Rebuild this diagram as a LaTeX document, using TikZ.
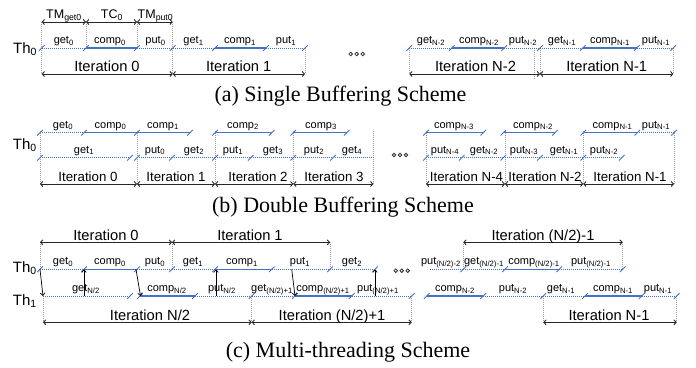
\documentclass[tikz,border=0pt]{standalone}
\usepackage{fontspec}
\setmainfont{Liberation Serif}
\setsansfont{Liberation Sans}
\usetikzlibrary{arrows.meta}
\definecolor{tlblue}{RGB}{68,114,196}
\newcounter{lbn}
\newcommand\sbs[1]{\textsubscript{#1}}
\tikzset{
 xfer/.style={tlblue, line width=0.8pt, dash pattern=on 0.8pt off 1.2pt},
 compline/.style={tlblue, line width=1.4pt},
 vguide/.style={gray!75, line width=0.6pt, dash pattern=on 0.7pt off 1.3pt},
 itspan/.style={black!85, line width=0.9pt, {Straight Barb[length=2.2pt,width=5pt]}-{Straight Barb[length=2.2pt,width=5pt]}},
 handoff/.style={black, line width=0.7pt, -{Straight Barb[length=2.5pt,width=4.5pt]}},
 lbl/.style={font=\sffamily\fontsize{11}{12}\selectfont, anchor=base, inner sep=0pt},
 toplbl/.style={font=\sffamily\fontsize{12.5}{14}\selectfont, anchor=base, inner sep=0pt},
 itla/.style={font=\sffamily\fontsize{14.7}{16}\selectfont, anchor=base, inner sep=0pt},
 itlb/.style={font=\sffamily\fontsize{13.3}{15}\selectfont, anchor=base, inner sep=0pt},
 thl/.style={font=\sffamily\fontsize{15}{16}\selectfont, anchor=base west, inner sep=0pt},
 captxt/.style={font=\fontsize{22}{24}\selectfont, anchor=base, inner sep=0pt},
 pics/slash/.style={code={\draw[tlblue, line width=0.9pt] (-2.8,2.8) -- (2.8,-2.8);}},
}
% segment: style, x0, x1, y, label x, label
\newcommand\tseg[6]{\draw[#1] (#2,#4) -- (#3,#4);\stepcounter{lbn}\node[lbl] (l\arabic{lbn}) at (#5,#4-4.5) {#6};}
% iteration span: x0, x1, y, label x, text, style
\newcommand\iter[6]{\draw[itspan] (#1,#3) -- (#2,#3);\stepcounter{lbn}\node[#6] (l\arabic{lbn}) at (#4,#3-2.3) {#5};}
\newcommand\ooo[2]{\foreach \dx in {-6,0,6} \draw[black!80, line width=0.8pt] (#1+\dx,#2) circle[radius=1.8];}
\begin{document}
\begin{tikzpicture}[x=1pt,y=-1pt]
\useasboundingbox (0,0) rectangle (696,367);

%% ---------------- (a) ----------------
\foreach \x/\a/\b in {41.7/22/74, 86/22/48, 137/22/48, 172.7/22/74, 305/48/74, 409.3/48/74, 534.3/48/80, 540.7/48/74, 673.3/48/74}
  \draw[vguide] (\x,\a) -- (\x,\b);
\draw[itspan] (41.7,22) -- (86,22);
\draw[itspan] (86,22) -- (137,22);
\draw[itspan] (137,22) -- (172.7,22);
\node[toplbl] (tmget) at (64,18.3) {TM\sbs{get0}};
\node[toplbl] (tc) at (112,18.3) {TC\sbs{0}};
\node[toplbl] (tmput) at (155.5,18.3) {TM\sbs{put0}};
\node[thl] (tha) at (13,53.3) {Th\sbs{0}};
\tseg{xfer}{41.7}{86}{48}{63.8}{get\sbs{0}}
\tseg{compline}{86}{137}{48}{110}{comp\sbs{0}}
\tseg{xfer}{137}{172.7}{48}{155.5}{put\sbs{0}}
\tseg{xfer}{172.7}{215}{48}{193.5}{get\sbs{1}}
\tseg{compline}{215}{266}{48}{240}{comp\sbs{1}}
\tseg{xfer}{266}{305}{48}{286}{put\sbs{1}}
\tseg{xfer}{409.3}{451.7}{48}{431}{get\sbs{N-2}}
\tseg{compline}{451.7}{504.3}{48}{479}{comp\sbs{N-2}}
\tseg{xfer}{504.3}{540}{48}{523}{put\sbs{N-2}}
\tseg{xfer}{540}{582.7}{48}{562}{get\sbs{N-1}}
\tseg{compline}{582.7}{636.7}{48}{610}{comp\sbs{N-1}}
\tseg{xfer}{636.7}{673.3}{48}{656}{put\sbs{N-1}}
\foreach \x in {41.7,86,137,172.7,215,266,305,409.3,451.7,504.3,540,582.7,636.7,673.3}
  \pic at (\x,48) {slash};
\iter{41.7}{172.7}{74}{107}{Iteration 0}{itla}
\iter{172.7}{305}{74}{238.7}{Iteration 1}{itla}
\iter{409.3}{540}{74}{475.5}{Iteration N-2}{itla}
\iter{540}{673.3}{74}{606.7}{Iteration N-1}{itla}
\ooo{356.7}{54}
\node[captxt] (capa) at (340.5,101.5) {(a) Single Buffering Scheme};

%% ---------------- (b) ----------------
\foreach \x in {40,137,215,293.3,373.3,426,505,583.3,674}
  \draw[vguide] (\x,131) -- (\x,184);
\node[thl] (thb) at (12.7,149.3) {Th\sbs{0}};
\tseg{xfer}{40}{84}{132.7}{63}{get\sbs{0}}
\tseg{compline}{84}{137}{132.7}{110.5}{comp\sbs{0}}
\tseg{compline}{137}{190}{132.7}{163}{comp\sbs{1}}
\tseg{compline}{215}{271.7}{132.7}{243}{comp\sbs{2}}
\tseg{compline}{293.3}{346.7}{132.7}{321}{comp\sbs{3}}
\tseg{compline}{426}{483.3}{132.7}{454}{comp\sbs{N-3}}
\tseg{compline}{503.3}{555}{132.7}{533}{comp\sbs{N-2}}
\tseg{compline}{583.3}{637.3}{132.7}{612.5}{comp\sbs{N-1}}
\tseg{xfer}{637.3}{674}{132.7}{656}{put\sbs{N-1}}
\foreach \x in {40,84,137,190,215,271.7,293.3,346.7,426,483.3,503.3,555,583.3,637.3,674}
  \pic at (\x,132.7) {slash};
\tseg{xfer}{40}{130}{157.7}{84}{get\sbs{1}}
\tseg{xfer}{137}{172}{157.7}{155}{put\sbs{0}}
\tseg{xfer}{172}{215}{157.7}{194}{get\sbs{2}}
\tseg{xfer}{215}{250.7}{157.7}{233}{put\sbs{1}}
\tseg{xfer}{250.7}{293.3}{157.7}{273}{get\sbs{3}}
\tseg{xfer}{293.3}{333}{157.7}{314}{put\sbs{2}}
\tseg{xfer}{333}{373.3}{157.7}{352}{get\sbs{4}}
\tseg{xfer}{426}{461.7}{157.7}{445}{put\sbs{N-4}}
\tseg{xfer}{461.7}{503.3}{157.7}{484}{get\sbs{N-2}}
\tseg{xfer}{503.3}{540}{157.7}{524}{put\sbs{N-3}}
\tseg{xfer}{540}{583.3}{157.7}{564}{get\sbs{N-1}}
\tseg{xfer}{583.3}{621.7}{157.7}{604}{put\sbs{N-2}}
\foreach \x in {40,130,137,172,215,250.7,293.3,333,426,461.7,503.3,540,583.3,621.7}
  \pic at (\x,157.7) {slash};
\iter{40}{137}{184}{88}{Iteration 0}{itlb}
\iter{137}{215}{184}{176}{Iteration 1}{itlb}
\iter{215}{293.3}{184}{258}{Iteration 2}{itlb}
\iter{293.3}{373.3}{184}{334}{Iteration 3}{itlb}
\iter{426}{505}{184}{466.5}{Iteration N-4}{itlb}
\iter{505}{583.3}{184}{545}{Iteration N-2}{itlb}
\iter{583.3}{674}{184}{630}{Iteration N-1}{itlb}
\ooo{400}{155}
\node[captxt] (capb) at (343,212) {(b) Double Buffering Scheme};

%% ---------------- (c) ----------------
\foreach \x in {40,172,330,463.3,622.7}
  \draw[vguide] (\x,242.3) -- (\x,269.3);
\foreach \x in {43,251.7,411.7,543.3,676.7}
  \draw[vguide] (\x,296) -- (\x,322.3);
\iter{40}{172}{242.3}{106}{Iteration 0}{itla}
\iter{172}{330}{242.3}{250}{Iteration 1}{itla}
\iter{463.3}{622.7}{242.3}{543}{Iteration (N/2)-1}{itla}
\node[thl] (thc0) at (12.7,272) {Th\sbs{0}};
\node[thl] (thc1) at (12.7,305) {Th\sbs{1}};
\tseg{xfer}{40}{84}{269.3}{63}{get\sbs{0}}
\tseg{compline}{84}{137}{269.3}{110}{comp\sbs{0}}
\tseg{xfer}{137}{172}{269.3}{155}{put\sbs{0}}
\tseg{xfer}{172}{215}{269.3}{193}{get\sbs{1}}
\tseg{compline}{215}{271.7}{269.3}{242}{comp\sbs{1}}
\tseg{xfer}{271.7}{330}{269.3}{300}{put\sbs{1}}
\tseg{xfer}{330}{375}{269.3}{352}{get\sbs{2}}
\tseg{xfer}{430}{463.3}{269.3}{441}{put\sbs{(N/2)-2}}
\tseg{xfer}{463.3}{505}{269.3}{484}{get\sbs{(N/2)-1}}
\tseg{compline}{505}{559.3}{269.3}{534}{comp\sbs{(N/2)-1}}
\tseg{xfer}{559.3}{622.7}{269.3}{591}{put\sbs{(N/2)-1}}
\foreach \x in {40,84,137,172,215,271.7,330,375,463.3,505,559.3,622.7}
  \pic at (\x,269.3) {slash};
\tseg{xfer}{43}{130}{296}{86}{get\sbs{N/2}}
\tseg{compline}{140}{195}{296}{167}{comp\sbs{N/2}}
\tseg{xfer}{195}{251.7}{296}{222}{put\sbs{N/2}}
\tseg{xfer}{251.7}{295}{296}{272}{get\sbs{(N/2)+1}}
\tseg{compline}{295}{351.7}{296}{323}{comp\sbs{(N/2)+1}}
\tseg{xfer}{351.7}{411.7}{296}{378}{put\sbs{(N/2)+1}}
\tseg{compline}{426.7}{483.3}{296}{455}{comp\sbs{N-2}}
\tseg{xfer}{483.3}{543.3}{296}{513}{put\sbs{N-2}}
\tseg{xfer}{543.3}{585}{296}{561}{get\sbs{N-1}}
\tseg{compline}{585}{641.7}{296}{613}{comp\sbs{N-1}}
\tseg{xfer}{641.7}{676.7}{296}{658}{put\sbs{N-1}}
\foreach \x in {130,140,195,251.7,295,351.7,411.7,426.7,483.3,543.3,585,641.7,676.7}
  \pic at (\x,296) {slash};
\draw[handoff] (40,269.3) -- (43,296);
\draw[handoff] (84,296) -- (84,269.3);
\draw[handoff] (136,269.3) -- (140.5,296);
\draw[handoff] (216,296) -- (216,269.3);
\draw[handoff] (291.7,269.3) -- (295,296);
\draw[handoff] (375,296) -- (375,269.3);
\iter{43}{251.7}{322.3}{150}{Iteration N/2}{itla}
\iter{251.7}{411.7}{322.3}{332}{Iteration (N/2)+1}{itla}
\iter{543.3}{676.7}{322.3}{609}{Iteration N-1}{itla}
\ooo{401.7}{270.7}
\node[captxt] (capc) at (348,357) {(c) Multi-threading Scheme};
\end{tikzpicture}
\end{document}
